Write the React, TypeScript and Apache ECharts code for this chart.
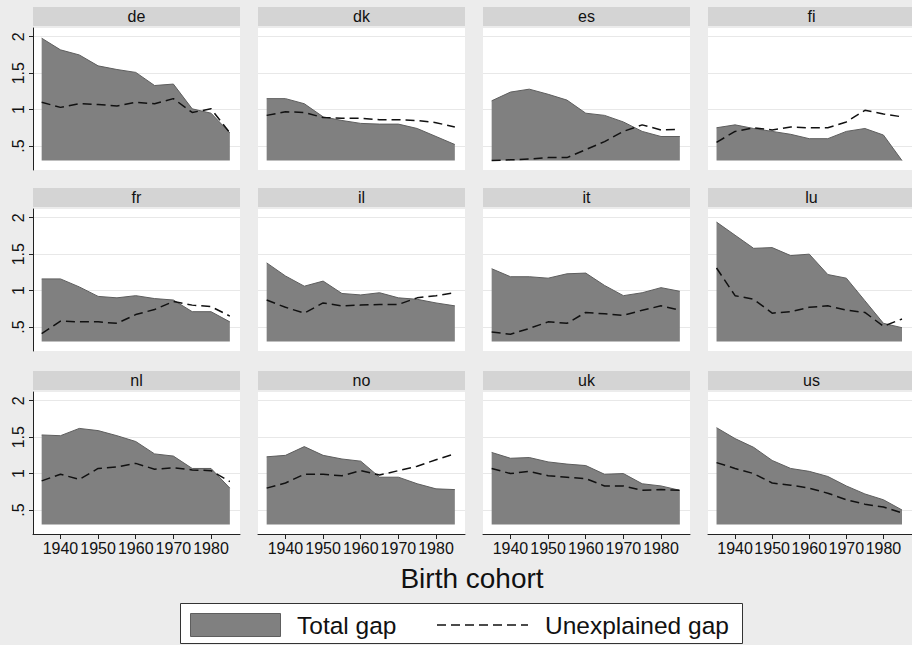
import React, { useEffect, useRef } from 'react';
import * as echarts from 'echarts';

const years = [1935, 1940, 1945, 1950, 1955, 1960, 1965, 1970, 1975, 1980, 1985];
const countries = ['de', 'dk', 'es', 'fi', 'fr', 'il', 'it', 'lu', 'nl', 'no', 'uk', 'us'];
const xTicks = [1940, 1950, 1960, 1970, 1980];
const yTicks = [0.5, 1, 1.5, 2];
const yTickLabels = ['.5', '1', '1.5', '2'];
const xAxisTitle = 'Birth cohort';
const legendLabels = ['Total gap', 'Unexplained gap'];

const deTotal = [1.98, 1.82, 1.75, 1.6, 1.55, 1.51, 1.33, 1.35, 1.01, 0.95, 0.68];
const deUnexpl = [1.1, 1.03, 1.08, 1.07, 1.05, 1.1, 1.08, 1.15, 0.96, 1.01, 0.68];
const dkTotal = [1.15, 1.15, 1.08, 0.9, 0.85, 0.81, 0.8, 0.8, 0.74, 0.63, 0.52];
const dkUnexpl = [0.92, 0.97, 0.96, 0.89, 0.88, 0.88, 0.86, 0.86, 0.85, 0.82, 0.76];
const esTotal = [1.12, 1.24, 1.28, 1.21, 1.13, 0.95, 0.92, 0.83, 0.7, 0.63, 0.63];
const esUnexpl = [0.3, 0.31, 0.32, 0.34, 0.34, 0.45, 0.56, 0.7, 0.79, 0.72, 0.73];
const fiTotal = [0.75, 0.79, 0.74, 0.7, 0.66, 0.6, 0.6, 0.7, 0.74, 0.65, 0.3];
const fiUnexpl = [0.55, 0.7, 0.75, 0.72, 0.76, 0.75, 0.75, 0.83, 0.99, 0.94, 0.9];
const frTotal = [1.16, 1.16, 1.05, 0.92, 0.9, 0.93, 0.89, 0.87, 0.71, 0.71, 0.57];
const frUnexpl = [0.41, 0.58, 0.57, 0.57, 0.55, 0.67, 0.74, 0.85, 0.8, 0.78, 0.65];
const ilTotal = [1.38, 1.2, 1.06, 1.13, 0.96, 0.94, 0.97, 0.9, 0.88, 0.83, 0.79];
const ilUnexpl = [0.87, 0.77, 0.69, 0.83, 0.79, 0.8, 0.81, 0.81, 0.9, 0.93, 0.97];
const itTotal = [1.3, 1.19, 1.19, 1.17, 1.23, 1.24, 1.07, 0.93, 0.97, 1.04, 0.99];
const itUnexpl = [0.43, 0.4, 0.48, 0.57, 0.55, 0.7, 0.68, 0.66, 0.73, 0.79, 0.73];
const luTotal = [1.94, 1.76, 1.58, 1.59, 1.48, 1.5, 1.22, 1.17, 0.86, 0.55, 0.49];
const luUnexpl = [1.31, 0.93, 0.88, 0.69, 0.71, 0.77, 0.79, 0.73, 0.7, 0.51, 0.61];
const nlTotal = [1.53, 1.52, 1.62, 1.59, 1.52, 1.44, 1.27, 1.24, 1.07, 1.07, 0.8];
const nlUnexpl = [0.9, 0.99, 0.92, 1.07, 1.09, 1.14, 1.06, 1.08, 1.05, 1.04, 0.89];
const noTotal = [1.23, 1.25, 1.37, 1.25, 1.2, 1.17, 0.95, 0.95, 0.86, 0.79, 0.78];
const noUnexpl = [0.8, 0.87, 0.99, 0.99, 0.97, 1.04, 0.98, 1.04, 1.1, 1.19, 1.27];
const ukTotal = [1.29, 1.21, 1.22, 1.16, 1.13, 1.11, 0.99, 1.0, 0.86, 0.83, 0.77];
const ukUnexpl = [1.07, 1.0, 1.03, 0.97, 0.95, 0.93, 0.83, 0.83, 0.77, 0.78, 0.77];
const usTotal = [1.63, 1.48, 1.36, 1.18, 1.07, 1.03, 0.96, 0.83, 0.72, 0.64, 0.5];
const usUnexpl = [1.15, 1.07, 1.0, 0.87, 0.84, 0.8, 0.73, 0.64, 0.58, 0.54, 0.46];

const totalByCountry: Record<string, number[]> = {
  de: deTotal, dk: dkTotal, es: esTotal, fi: fiTotal, fr: frTotal, il: ilTotal,
  it: itTotal, lu: luTotal, nl: nlTotal, no: noTotal, uk: ukTotal, us: usTotal,
};
const unexplByCountry: Record<string, number[]> = {
  de: deUnexpl, dk: dkUnexpl, es: esUnexpl, fi: fiUnexpl, fr: frUnexpl, il: ilUnexpl,
  it: itUnexpl, lu: luUnexpl, nl: nlUnexpl, no: noUnexpl, uk: ukUnexpl, us: usUnexpl,
};

const FONT = "'Liberation Sans', Arial, sans-serif";
const colLeft = [33, 258, 483, 708];
const rowTop = [28, 209, 392];
const gridW = 207;
const gridH = 142;
const AREA_BASE = 0.3;

export default function App() {
  const ref = useRef<HTMLDivElement>(null);
  useEffect(() => {
    if (!ref.current) return;
    const chart = echarts.init(ref.current, undefined, { renderer: 'svg' });
    const grids: any[] = [];
    const xAxes: any[] = [];
    const yAxes: any[] = [];
    const series: any[] = [];
    const graphics: any[] = [];
    countries.forEach((c, i) => {
      const col = i % 4;
      const row = Math.floor(i / 4);
      const left = colLeft[col];
      const top = rowTop[row];
      grids.push({
        left, top, width: gridW, height: gridH, show: true,
        backgroundColor: '#ffffff', borderWidth: 0, containLabel: false,
      });
      const bottomRow = row === 2;
      xAxes.push({
        type: 'value', gridIndex: i, min: 1932.7, max: 1987.7,
        axisLine: { show: bottomRow, onZero: false, lineStyle: { color: '#222', width: 1 } },
        axisTick: { show: bottomRow, length: 5, customValues: xTicks, lineStyle: { color: '#222' } },
        axisLabel: {
          show: bottomRow, customValues: xTicks, margin: 6, interval: 0, hideOverlap: false,
          fontSize: 16, fontFamily: FONT, color: '#111',
          formatter: (v: number) => String(Math.round(v)),
        },
        splitLine: { show: false },
      });
      const firstCol = col === 0;
      yAxes.push({
        type: 'value', gridIndex: i, min: 0.17, max: 2.12,
        splitNumber: 4, minInterval: 0.5, maxInterval: 0.5,
        axisLine: { show: firstCol, lineStyle: { color: '#222', width: 1 } },
        axisTick: { show: firstCol, length: 4, customValues: yTicks, lineStyle: { color: '#222' } },
        axisLabel: {
          show: firstCol, rotate: 90, margin: 7, showMinLabel: false, showMaxLabel: false,
          fontSize: 16, fontFamily: FONT, color: '#111',
          formatter: (v: number) => {
            const k = yTicks.findIndex((t) => Math.abs(t - v) < 1e-6);
            return k >= 0 ? yTickLabels[k] : '';
          },
        },
        splitLine: { show: true, lineStyle: { color: '#e8e8e8', width: 1 } },
      });
      series.push({
        type: 'line', name: legendLabels[0], xAxisIndex: i, yAxisIndex: i,
        data: years.map((y, k) => [y, totalByCountry[c][k]]),
        symbol: 'none', silent: true,
        lineStyle: { color: '#5e5e5e', width: 1 },
        areaStyle: { color: '#808080', opacity: 1, origin: AREA_BASE },
      });
      series.push({
        type: 'line', name: legendLabels[1], xAxisIndex: i, yAxisIndex: i,
        data: years.map((y, k) => [y, unexplByCountry[c][k]]),
        symbol: 'none', silent: true,
        lineStyle: { color: '#111', width: 1.5, type: [9, 5] },
      });
      graphics.push({
        type: 'rect', shape: { x: left, y: top - 21, width: gridW, height: 19 },
        style: { fill: '#d4d4d4' }, silent: true,
      });
      graphics.push({
        type: 'text', x: left + gridW / 2, y: top - 11.5,
        style: {
          text: c, fill: '#111', font: `16px ${FONT}`,
          textAlign: 'center', textVerticalAlign: 'middle',
        },
        silent: true,
      });
    });
    graphics.push({
      type: 'text', x: 472, y: 578,
      style: { text: xAxisTitle, fill: '#111', font: `28px ${FONT}`, textAlign: 'center', textVerticalAlign: 'middle' },
      silent: true,
    });
    graphics.push({
      type: 'rect', shape: { x: 180.5, y: 603.5, width: 562, height: 40 },
      style: { fill: '#ffffff', stroke: '#333', lineWidth: 1 }, silent: true,
    });
    graphics.push({
      type: 'rect', shape: { x: 190.5, y: 613.5, width: 90, height: 23 },
      style: { fill: '#808080', stroke: '#5e5e5e', lineWidth: 1 }, silent: true,
    });
    graphics.push({
      type: 'text', x: 297, y: 625,
      style: { text: legendLabels[0], fill: '#111', font: `24.5px ${FONT}`, textAlign: 'left', textVerticalAlign: 'middle' },
      silent: true,
    });
    graphics.push({
      type: 'line', shape: { x1: 437, y1: 625, x2: 528, y2: 625 },
      style: { stroke: '#111', lineWidth: 1.5, lineDash: [9, 5] }, silent: true,
    });
    graphics.push({
      type: 'text', x: 545, y: 625,
      style: { text: legendLabels[1], fill: '#111', font: `24.5px ${FONT}`, textAlign: 'left', textVerticalAlign: 'middle' },
      silent: true,
    });

    chart.setOption({
      animation: false,
      backgroundColor: '#ececec',
      grid: grids,
      xAxis: xAxes,
      yAxis: yAxes,
      series,
      graphic: graphics,
    });
    return () => chart.dispose();
  }, []);
  return (
    <div
      ref={ref}
      style={{ position: 'fixed', left: 0, top: 0, width: 912, height: 645 }}
    />
  );
}
